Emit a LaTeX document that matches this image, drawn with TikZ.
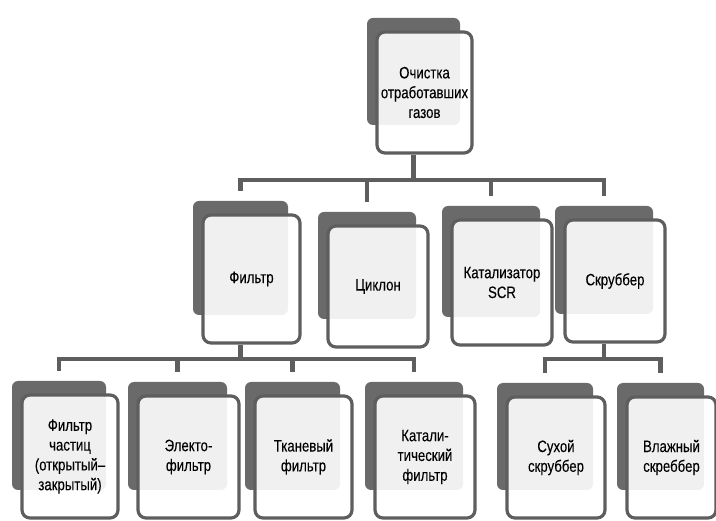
\documentclass[tikz,border=0pt]{standalone}
\usepackage{fontspec}
\setmainfont[FakeStretch=0.8,FakeBold=0.1]{Liberation Sans}
\usetikzlibrary{calc}
\definecolor{dk}{HTML}{6A6A6A}
\definecolor{ln}{HTML}{5E5E5E}
\tikzset{
  backbox/.style={fill=dk, rounded corners=6pt, inner sep=0pt, draw=none},
  frontbox/.style={draw=ln, line width=3.2pt, fill=white, fill opacity=0.9, text opacity=1,
    rounded corners=8pt, inner sep=0pt, align=center, font=\fontsize{16.5}{19.8}\selectfont},
  conn/.style={draw=ln, line width=4.6pt},
}
% name, L, T, R, B, text
\newcommand\mkbox[6]{%
  \node[backbox, minimum width={#4-#2-2}, minimum height={#5-#3-14}] (#1b)
    at ({(#2+#4-22)/2}, {(#3+#5-42)/2}) {};
  \node[frontbox, minimum width={#4-#2}, minimum height={#5-#3}] (#1)
    at ({(#2+#4)/2}, {(#3+#5)/2}) {#6};
}
\begin{document}
\begin{tikzpicture}[x=1pt, y=-1pt]
\useasboundingbox (0,0) rectangle (716,521);
\mkbox{top}{377}{32}{472}{153}{Очистка\\отработавших\\газов}
\mkbox{filtr}{203}{215}{300}{343}{Фильтр}
\mkbox{cycl}{328}{226}{428}{347}{Циклон}
\mkbox{kat}{452}{220}{552}{345}{Катализатор\\SCR}
\mkbox{skru}{565}{220}{665}{342}{Скруббер}
\mkbox{pc}{22}{395}{118}{518}{Фильтр\\частиц\\(открытый–\\закрытый)}
\mkbox{el}{138}{396}{239}{518}{Электо-\\фильтр}
\mkbox{tkan}{255}{396}{352}{518}{Тканевый\\фильтр}
\mkbox{katf}{375}{396}{475}{518}{Катали-\\тический\\фильтр}
\mkbox{dry}{507}{397}{605}{518}{Сухой\\скруббер}
\mkbox{wet}{627}{397}{716}{518}{Влажный\\скреббер}
\coordinate (bus1) at (0,180);
\coordinate (bus2) at (0,359);
% top level
\draw[conn] (topb |- top.south) -- (topb |- bus1);
\draw[conn] ($(filtrb.north)+(0,-10)$) |- (bus1 -| skrub.north) -- ($(skrub.north)+(0,-10)$);
\draw[conn] (cyclb.north |- bus1) -- ($(cyclb.north)+(0,-10)$);
\draw[conn] (katb.north |- bus1) -- ($(katb.north)+(0,-10)$);
% filter branch
\draw[conn] (filtrb |- filtr.south) -- (filtrb |- bus2);
\draw[conn] ($(pcb.north)+(0,-10)$) |- (bus2 -| katfb.north) -- ($(katfb.north)+(0,-10)$);
\draw[conn] (elb.north |- bus2) -- ($(elb.north)+(0,-10)$);
\draw[conn] (tkanb.north |- bus2) -- ($(tkanb.north)+(0,-10)$);
% scrubber branch
\draw[conn] (skrub |- skru.south) -- (skrub |- bus2);
\draw[conn] ($(dryb.north)+(0,-10)$) |- (bus2 -| wetb.north) -- ($(wetb.north)+(0,-10)$);
\end{tikzpicture}
\end{document}
